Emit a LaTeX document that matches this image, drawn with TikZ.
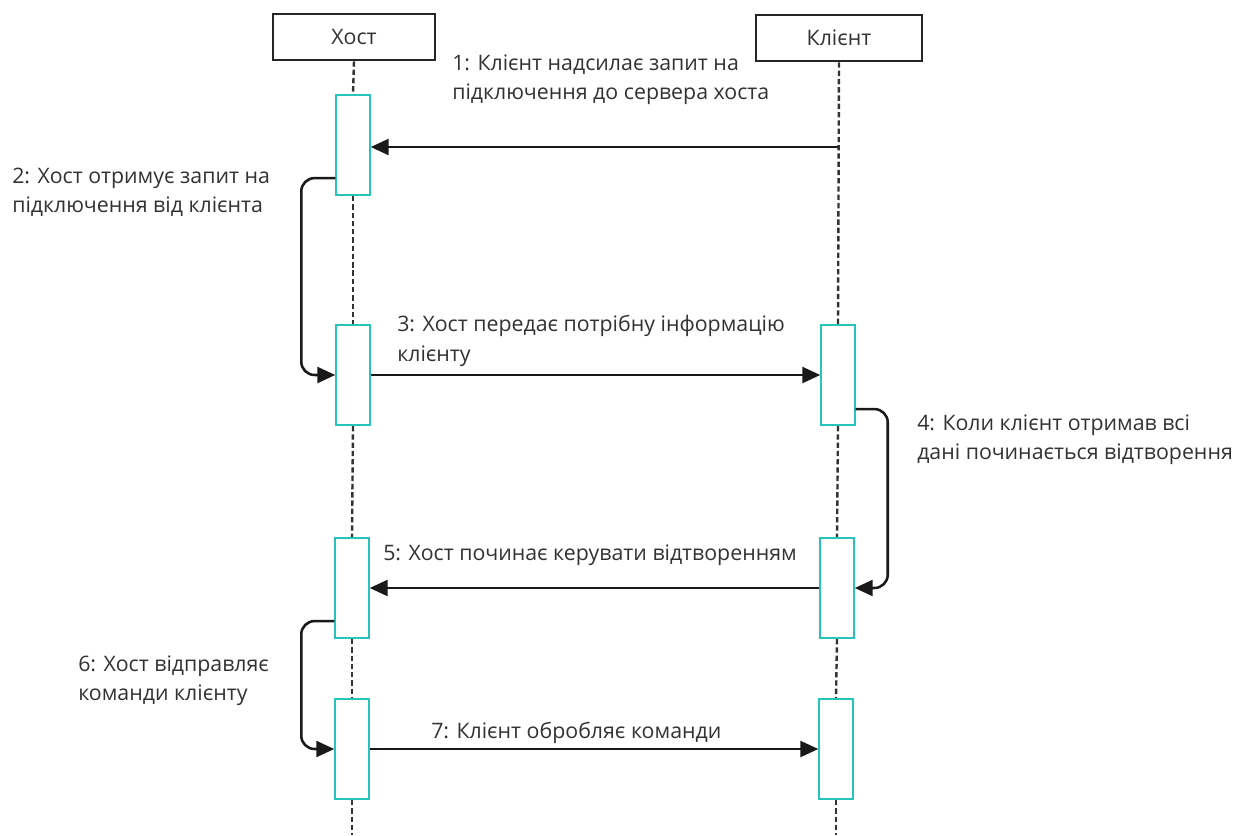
\documentclass[tikz,border=0pt]{standalone}
\usepackage{fontspec}
\setmainfont{Open Sans}
\usepackage{tikz}
\usetikzlibrary{arrows.meta, positioning, calc}
\definecolor{acttea}{RGB}{38,196,186}
\definecolor{txtgray}{RGB}{50,50,50}
\tikzset{
  headbox/.style={draw=black!85, fill=white, line width=1.6pt,
                  minimum width=#1, minimum height=35pt, inner sep=0pt,
                  font=\fontsize{16}{19}\selectfont, text=txtgray},
  actbox/.style={draw=acttea, fill=white, line width=1.6pt,
                 minimum width=25pt, minimum height=75pt, inner sep=0pt},
  lifeline/.style={draw=black!80, line width=1.8pt, dash pattern=on 4pt off 2.2pt},
  msg/.style={-{Triangle[length=13.5pt, width=12pt]}, line width=1.9pt, black!90},
  lbl/.style={anchor=west, align=left, inner sep=0pt, text=txtgray,
              font=\fontsize{16}{22}\selectfont},
}
\begin{document}
\begin{tikzpicture}[x=0.75pt, y=-0.75pt]
  \useasboundingbox (0,0) rectangle (1255,835);
  % lifeline heads
  \node[headbox=121.5pt] (host)   at (354,37) {Хост};
  \node[headbox=124.5pt] (client) at (839,38) {Клієнт};
  % activation boxes
  \node[actbox] (hA1) at (353,145) {};
  \node[actbox] (hA2) at (353,375) {};
  \node[actbox] (hA3) at (352,588) {};
  \node[actbox] (hA4) at (352,749) {};
  \node[actbox] (cA1) at (838,375) {};
  \node[actbox] (cA2) at (837,588) {};
  \node[actbox] (cA3) at (836,749) {};
  \coordinate (hEnd) at (352,835);
  \coordinate (cEnd) at (836,835);
  \coordinate (m1s)  at (838,147);
  \foreach \a/\b in {host/hA1, hA1/hA2, hA2/hA3, hA3/hA4}
    \draw[lifeline] (\a.south) -- (\b.north);
  \draw[lifeline] (hA4.south) -- (hEnd);
  \draw[lifeline] (client.south) -- (cA1.north);
  \foreach \a/\b in {cA1/cA2, cA2/cA3}
    \draw[lifeline] (\a.south) -- (\b.north);
  \draw[lifeline] (cA3.south) -- (cEnd);
  % messages
  \draw[msg] (m1s) -- (m1s -| hA1.east);
  \draw[msg, rounded corners=10pt] ([shift={(0,-18)}]hA1.south west) -- ++(-34,0) |- (hA2.west);
  \draw[msg] (hA2.east) -- (cA1.west);
  \draw[msg, rounded corners=10pt] ([shift={(0,-17)}]cA1.south east) -- ++(32,0) |- (cA2.east);
  \draw[msg] (cA2.west) -- (hA3.east);
  \draw[msg, rounded corners=10pt] ([shift={(0,-18)}]hA3.south west) -- ++(-33,0) |- (hA4.west);
  \draw[msg] (hA4.east) -- (cA3.west);
  % labels
  \node[lbl] (lbl1) at (452,80)  {1: Клієнт надсилає запит на\\підключення до сервера хоста};
  \node[lbl] (lbl2) at (12,192)  {2: Хост отримує запит на\\підключення від клієнта};
  \node[lbl] (lbl3) at (397,341) {3: Хост передає потрібну інформацію\\клієнту};
  \node[lbl] (lbl4) at (917,440) {4: Коли клієнт отримав всі\\дані починається відтворення};
  \node[lbl] (lbl5) at (383,555) {5: Хост починає керувати відтворенням};
  \node[lbl] (lbl6) at (78,681)  {6: Хост відправляє\\команди клієнту};
  \node[lbl] (lbl7) at (431,733) {7: Клієнт обробляє команди};
\end{tikzpicture}
\end{document}
